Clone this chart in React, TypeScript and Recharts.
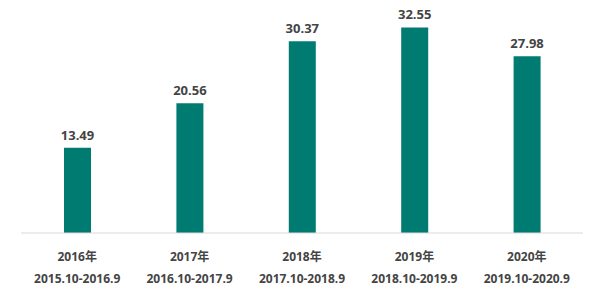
import React from "react";
import { BarChart, Bar, XAxis, YAxis, LabelList } from "recharts";

const years = ["2016年", "2017年", "2018年", "2019年", "2020年"];
const periods = [
  "2015.10-2016.9",
  "2016.10-2017.9",
  "2017.10-2018.9",
  "2018.10-2019.9",
  "2019.10-2020.9",
];
const values = [13.49, 20.56, 30.37, 32.55, 27.98];

const data = years.map((year, i) => ({ year, period: periods[i], value: values[i] }));

const FONT = "'Open Sans', 'Noto Sans CJK SC', sans-serif";
const TEXT_COLOR = "#444444";
const BAR_COLOR = "#007B72";

const TwoLineTick = (props: any) => {
  const { x, y, payload, index } = props;
  return (
    <g transform={`translate(${x},${y})`}>
      <text
        textAnchor="middle"
        fill={TEXT_COLOR}
        fontFamily={FONT}
        fontSize={12}
        fontWeight="bold"
      >
        <tspan x={0} y={20}>{payload.value}</tspan>
        <tspan x={0} y={42}>{periods[index]}</tspan>
      </text>
    </g>
  );
};

export default function App() {
  return (
    <div style={{ position: "absolute", left: 0, top: 0, width: 605, height: 294, background: "#ffffff" }}>
      <BarChart
        width={605}
        height={294}
        data={data}
        margin={{ top: 12, right: 22, bottom: 0, left: 21 }}
      >
        <XAxis
          dataKey="year"
          axisLine={{ stroke: "#d9d9d9", strokeWidth: 1 }}
          tickLine={false}
          interval={0}
          tick={<TwoLineTick />}
          height={61}
        />
        <YAxis hide domain={[0, 35]} />
        <Bar dataKey="value" fill={BAR_COLOR} barSize={27} isAnimationActive={false}>
          <LabelList
            dataKey="value"
            position="top"
            offset={8}
            fill={TEXT_COLOR}
            fontFamily={FONT}
            fontSize={13}
            fontWeight="bold"
          />
        </Bar>
      </BarChart>
    </div>
  );
}
